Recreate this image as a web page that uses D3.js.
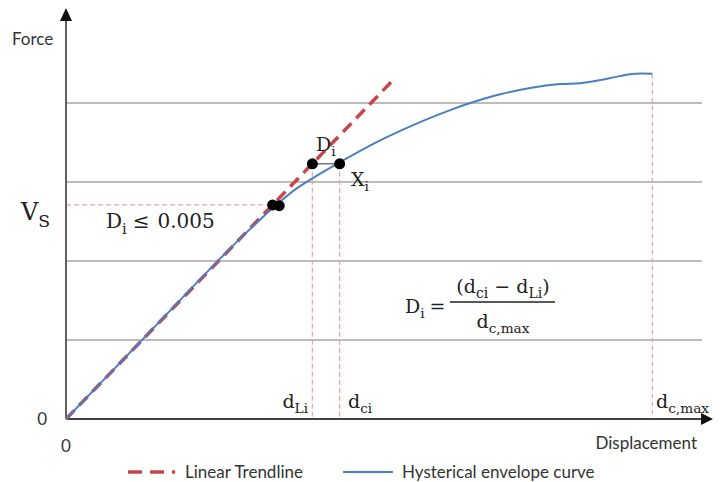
<!DOCTYPE html>
<html>
<head>
<meta charset="utf-8">
<script src="https://cdn.jsdelivr.net/npm/d3@7"></script>
<style>
  body { margin: 0; background: #fff; }
  text { fill: #333; }
  .sans { font-family: Lato, "Open Sans", sans-serif; }
  .math { font-family: "DejaVu Serif", "Liberation Serif", serif; fill: #222; }
</style>
</head>
<body>
<svg width="726" height="482"></svg>
<script>
// envelope curve (displacement, force)
var curveDisp  = [0, 11.4, 23.7, 27.5, 32.2, 35.5, 38.6, 41.7, 47.2, 53.4, 59.1, 62.2, 66.8, 71.4, 76.0, 79.1, 82.2, 85.2, 87.5, 90.2];
var curveForce = [0, 0.975, 2.03, 2.34, 2.70, 2.92, 3.08, 3.23, 3.48, 3.72, 3.91, 4.00, 4.11, 4.19, 4.24, 4.25, 4.29, 4.34, 4.37, 4.37];
// linear trendline end points
var trendDisp  = [0, 50.2];
var trendForce = [0, 4.28];
var gridForce = [1, 2, 3, 4];
// key points
var vsForce = 2.71;
var vsDots = [[31.8, 2.71], [32.8, 2.70]];
var dLi = 37.9, dci = 42.1, diForce = 3.23;
var dcMax = 90.2, dcMaxForce = 4.37;

var svg = d3.select("svg");

var x = d3.scaleLinear().domain([0, 100]).range([66, 716]);
var y = d3.scaleLinear().domain([0, 5]).range([419, 24]);

// horizontal grid
svg.selectAll(".grid")
  .data(gridForce)
  .enter().append("line")
  .attr("x1", x(0)).attr("x2", 702)
  .attr("y1", function(d){ return y(d); })
  .attr("y2", function(d){ return y(d); })
  .style("stroke", "#a6a6a6").style("stroke-width", 1.5);

// dashed guide lines
var pink = "#e8a3aa";
svg.append("line")
  .attr("x1", x(0)).attr("x2", x(vsDots[0][0]))
  .attr("y1", y(vsForce)).attr("y2", y(vsForce))
  .style("stroke", pink).style("stroke-width", 1.2).style("stroke-dasharray", "5,3");
[[dLi, diForce], [dci, diForce], [dcMax, dcMaxForce]].forEach(function(p){
  svg.append("line")
    .attr("x1", x(p[0])).attr("x2", x(p[0]))
    .attr("y1", y(p[1])).attr("y2", y(0))
    .style("stroke", pink).style("stroke-width", 1.2).style("stroke-dasharray", "5,3");
});

// axes with arrows
svg.append("line").attr("x1", x(0)).attr("x2", 704).attr("y1", y(0)).attr("y2", y(0))
  .style("stroke", "#404040").style("stroke-width", 2);
svg.append("path").attr("d", "M713,419 L701,413 L701,425 Z").style("fill", "#111");
svg.append("line").attr("x1", x(0)).attr("x2", x(0)).attr("y1", y(0)).attr("y2", 18)
  .style("stroke", "#606060").style("stroke-width", 2);
svg.append("path").attr("d", "M66,8 L60,21 L72,21 Z").style("fill", "#111");

// envelope curve
var pts = curveDisp.map(function(d, i){ return [d, curveForce[i]]; });
var line = d3.line()
  .x(function(d){ return x(d[0]); })
  .y(function(d){ return y(d[1]); })
  .curve(d3.curveCatmullRom);

// trendline
var tpts = trendDisp.map(function(d, i){ return [d, trendForce[i]]; });
svg.append("path").datum(tpts)
  .attr("d", d3.line().x(function(d){ return x(d[0]); }).y(function(d){ return y(d[1]); }))
  .style("fill", "none").style("stroke", "#c8454a").style("stroke-width", 3.5)
  .style("stroke-dasharray", "12,7");

svg.append("path").datum(pts)
  .attr("d", line)
  .style("fill", "none").style("stroke", "#4a7fc0").style("stroke-width", 2);

// Di segment and dots
svg.append("line").attr("x1", x(dLi)).attr("x2", x(dci)).attr("y1", y(diForce)).attr("y2", y(diForce))
  .style("stroke", "#333").style("stroke-width", 1);
svg.selectAll(".dot")
  .data(vsDots.concat([[dLi, diForce], [dci, diForce]]))
  .enter().append("circle")
  .attr("cx", function(d){ return x(d[0]); })
  .attr("cy", function(d){ return y(d[1]); })
  .attr("r", 5.5)
  .style("fill", "#000");

// text helper: main + subscript
function sub(xp, yp, main, s, size, anchor){
  var t = svg.append("text").attr("class", "math")
    .attr("x", xp).attr("y", yp).style("font-size", size + "px")
    .attr("text-anchor", anchor || "start");
  t.append("tspan").text(main);
  t.append("tspan").attr("dy", size * 0.28).style("font-size", (size * 0.72) + "px").text(s);
  return t;
}

// axis labels
svg.append("text").attr("class", "sans").attr("x", 12).attr("y", 45).style("font-size", "17px").text("Force");
svg.append("text").attr("class", "sans").attr("x", 697).attr("y", 449).attr("text-anchor", "end")
  .style("font-size", "17px").text("Displacement");
svg.append("text").attr("class", "sans").attr("x", 47).attr("y", 425).attr("text-anchor", "end")
  .style("font-size", "17px").text("0");
svg.append("text").attr("class", "sans").attr("x", 66).attr("y", 452).attr("text-anchor", "middle")
  .style("font-size", "17px").text("0");

// math labels
sub(21, 220, "V", "S", 24);
var t = sub(106, 228, "D", "i", 20);
t.append("tspan").attr("dy", -20 * 0.28).attr("dx", 6).text("≤");
t.append("tspan").attr("dx", 8).text("0.005");
sub(316, 151, "D", "i", 19);
sub(351, 186, "X", "i", 19);
sub(308, 408, "d", "Li", 19, "end");
sub(348, 408, "d", "ci", 19);
sub(656, 408, "d", "c,max", 19);

// formula
var f = sub(405, 313, "D", "i", 19);
f.append("tspan").attr("dy", -19 * 0.28).attr("dx", 5).text("=");
svg.append("line").attr("x1", 450).attr("x2", 555).attr("y1", 302).attr("y2", 302)
  .style("stroke", "#222").style("stroke-width", 1.3);
var n = svg.append("text").attr("class", "math").attr("x", 503).attr("y", 293)
  .attr("text-anchor", "middle").style("font-size", "19px");
n.append("tspan").text("(d");
n.append("tspan").attr("dy", 5).style("font-size", "14px").text("ci");
n.append("tspan").attr("dy", -5).text(" − d");
n.append("tspan").attr("dy", 5).style("font-size", "14px").text("Li");
n.append("tspan").attr("dy", -5).text(")");
sub(503, 328, "d", "c,max", 19, "middle");

// legend
svg.append("line").attr("x1", 128).attr("x2", 175).attr("y1", 472).attr("y2", 472)
  .style("stroke", "#c8454a").style("stroke-width", 3.5).style("stroke-dasharray", "14,8");
svg.append("text").attr("class", "sans").attr("x", 185).attr("y", 478).style("font-size", "17px").text("Linear Trendline");
svg.append("line").attr("x1", 343).attr("x2", 393).attr("y1", 472).attr("y2", 472)
  .style("stroke", "#4a7fc0").style("stroke-width", 2);
svg.append("text").attr("class", "sans").attr("x", 402).attr("y", 478).style("font-size", "17px").text("Hysterical envelope curve");
</script>
</body>
</html>
